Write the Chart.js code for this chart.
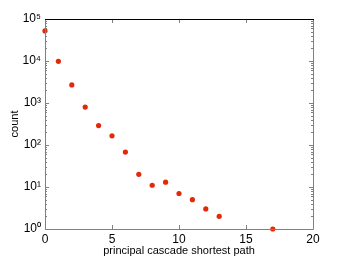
<!DOCTYPE html>
<html>
<head>
<meta charset="utf-8">
<script src="https://cdn.jsdelivr.net/npm/chart.js@4"></script>
<style>
  html, body { margin: 0; padding: 0; background: #fff; }
  #wrap { width: 346px; height: 258px; }
</style>
</head>
<body>
<div id="wrap"><canvas id="chart" width="346" height="258"></canvas></div>
<script>
// path length vs. number of cascades
const pathLength = [0, 1, 2, 3, 4, 5, 6, 7, 8, 9, 10, 11, 12, 13, 17];
const counts = [52000, 9800, 2700, 800, 290, 165, 68, 20, 11, 13, 7, 5, 3, 2, 1];
const xTicks = [0, 5, 10, 15, 20];
const yTicks = [1, 10, 100, 1000, 10000, 100000];
const supers = ['⁰', '¹', '²', '³', '⁴', '⁵'];

const font = 'Liberation Sans, Arial, sans-serif';

// frame + inward tick marks, like the original plot
const framePlugin = {
  id: 'frame',
  afterDraw(chart) {
    const { ctx, chartArea: a, scales } = chart;
    const xs = scales.x, ys = scales.y;
    ctx.save();
    ctx.lineWidth = 1;
    ctx.strokeStyle = '#808080';
    ctx.beginPath();
    ctx.moveTo(a.left + 0.5, a.top);
    ctx.lineTo(a.left + 0.5, a.bottom + 0.5);
    ctx.lineTo(a.right + 0.5, a.bottom + 0.5);
    ctx.lineTo(a.right + 0.5, a.top);
    // x ticks
    xTicks.forEach(v => {
      const px = Math.round(xs.getPixelForValue(v)) + 0.5;
      ctx.moveTo(px, a.bottom);
      ctx.lineTo(px, a.bottom - 4);
      ctx.moveTo(px, a.top);
      ctx.lineTo(px, a.top + 4);
    });
    // y ticks, major and minor
    for (let d = 0; d < 5; d++) {
      for (let m = 1; m <= 9; m++) {
        const v = m * Math.pow(10, d);
        const py = Math.round(ys.getPixelForValue(v)) + 0.5;
        const len = m === 1 ? 4 : 2;
        ctx.moveTo(a.left, py);
        ctx.lineTo(a.left + len, py);
        ctx.moveTo(a.right, py);
        ctx.lineTo(a.right - len, py);
      }
    }
    ctx.stroke();
    ctx.strokeStyle = '#000';
    ctx.beginPath();
    ctx.moveTo(a.left, a.top + 0.5);
    ctx.lineTo(a.right + 1, a.top + 0.5);
    ctx.stroke();
    ctx.restore();
  }
};

new Chart(document.getElementById('chart'), {
  type: 'scatter',
  data: {
    datasets: [{
      data: pathLength.map((x, i) => ({ x: x, y: counts[i] })),
      backgroundColor: '#e02a0a',
      borderColor: '#e02a0a',
      pointRadius: 2.6,
      pointBorderWidth: 0
    }]
  },
  options: {
    responsive: false,
    animation: false,
    clip: false,
    layout: { padding: { top: 19, right: 33, left: 0, bottom: 0 } },
    plugins: { legend: { display: false }, tooltip: { enabled: false } },
    scales: {
      x: {
        type: 'linear',
        min: 0,
        max: 20,
        afterBuildTicks: s => { s.ticks = xTicks.map(v => ({ value: v })); },
        afterFit: s => { s.height = 29; },
        grid: { display: false, drawTicks: false },
        border: { display: false },
        ticks: { color: '#000', padding: 3, font: { family: font, size: 12 } },
        title: {
          display: true,
          text: 'principal cascade shortest path',
          color: '#000',
          padding: { top: 0, bottom: 0 },
          font: { family: font, size: 11 }
        }
      },
      y: {
        type: 'logarithmic',
        min: 1,
        max: 100000,
        afterBuildTicks: s => { s.ticks = yTicks.map(v => ({ value: v })); },
        afterFit: s => { s.width = 45; },
        grid: { display: false, drawTicks: false },
        border: { display: false },
        ticks: {
          color: '#000',
          padding: 4,
          font: { family: font, size: 12 },
          callback: v => '10' + supers[Math.round(Math.log10(v))]
        },
        title: {
          display: true,
          text: 'count',
          color: '#000',
          padding: { top: 8, bottom: 0 },
          font: { family: font, size: 11 }
        }
      }
    }
  },
  plugins: [framePlugin]
});
</script>
</body>
</html>
